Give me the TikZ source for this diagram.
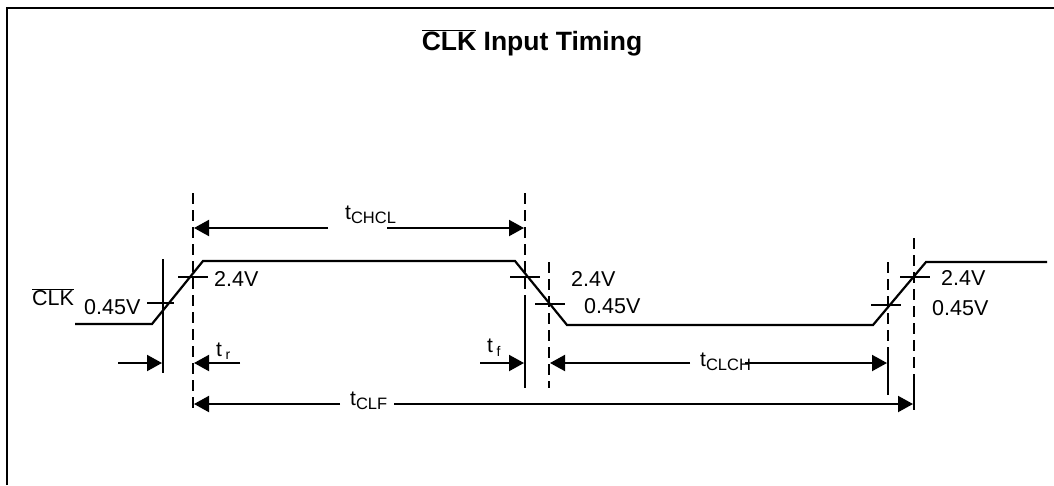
\documentclass[tikz,border=0pt]{standalone}
\usepackage{fontspec}
\setmainfont{Liberation Sans}
\usetikzlibrary{arrows.meta}
\begin{document}
\begin{tikzpicture}[x=1pt,y=-1pt,
  frame/.style={line width=2.2pt},
  wave/.style={line width=2.2pt, line join=miter},
  guide/.style={line width=2pt},
  dguide/.style={line width=2pt, dash pattern=on 11pt off 6pt},
  tickmark/.style={line width=2pt},
  dimr/.style={line width=2pt, -{Triangle[length=15pt,width=16pt]}},
  lbl/.style={font=\fontsize{21.5}{24}\selectfont, inner sep=0pt, anchor=west},
  sub/.style={font=\fontsize{21}{24}\selectfont, inner sep=0pt},
]
\newcommand{\subtxt}[1]{\raisebox{-4pt}{\fontsize{16.5}{18}\selectfont #1}}
\useasboundingbox (0,0) rectangle (1054,485);

% frame
\coordinate (fBL) at (7,485);
\coordinate (fTL) at (7,8);
\coordinate (fTR) at (1054,8);
\draw[frame] (fBL) -- (fTL) -- (fTR);

% title
\node[inner sep=0pt, font=\fontsize{26.5}{30}\selectfont\bfseries] (title) at (532,43)
  {$\overline{\hbox{\fontsize{26.5}{30}\selectfont\bfseries CLK}}$ Input Timing};

% waveform
\coordinate (w0) at (75,324);
\coordinate (w1) at (152,324);
\coordinate (w2) at (203,261);
\coordinate (w3) at (515,261);
\coordinate (w4) at (567,325);
\coordinate (w5) at (873,325);
\coordinate (w6) at (926,262);
\coordinate (w7) at (1047,262);
\draw[wave] (w0) -- (w1) -- (w2) -- (w3) -- (w4) -- (w5) -- (w6) -- (w7);

% vertical guide lines
\coordinate (aT) at (163,259); \coordinate (aB) at (163,373);
\draw[guide] (aT) -- (aB);
\coordinate (bT) at (193,193); \coordinate (bB) at (193,410);
\draw[dguide] (bT) -- (bB);
\coordinate (cT) at (525,193); \coordinate (cM) at (525,300); \coordinate (cB) at (525,388);
\draw[dguide] (cT) -- (cM); \draw[guide] (cM) -- (cB);
\coordinate (dT) at (549,262); \coordinate (dB) at (549,388);
\draw[dguide] (dT) -- (dB);
\coordinate (eT) at (888,262); \coordinate (eM) at (888,350); \coordinate (eB) at (888,395);
\draw[dguide] (eT) -- (eM); \draw[guide] (eM) -- (eB);
\coordinate (gT) at (914,238); \coordinate (gM) at (914,383); \coordinate (gB) at (914,410);
\draw[dguide] (gT) -- (gM); \draw[guide] (gM) -- (gB);

% tick marks at thresholds
\coordinate (t1a) at (147,303); \coordinate (t1b) at (174,303);
\draw[tickmark] (t1a) -- (t1b);
\coordinate (t2a) at (178,277); \coordinate (t2b) at (208,277);
\draw[tickmark] (t2a) -- (t2b);
\coordinate (t3a) at (510,277); \coordinate (t3b) at (540,277);
\draw[tickmark] (t3a) -- (t3b);
\coordinate (t4a) at (535,304); \coordinate (t4b) at (565,304);
\draw[tickmark] (t4a) -- (t4b);
\coordinate (t5a) at (871,305); \coordinate (t5b) at (901,305);
\draw[tickmark] (t5a) -- (t5b);
\coordinate (t6a) at (900,277); \coordinate (t6b) at (930,277);
\draw[tickmark] (t6a) -- (t6b);

% level labels
\node[lbl] (clk) at (32,297) {$\overline{\hbox{\fontsize{21.5}{24}\selectfont CLK}}$};
\node[lbl] (v045a) at (84,307) {0.45V};
\node[lbl] (v24a) at (214,279) {2.4V};
\node[lbl] (v24b) at (571,279) {2.4V};
\node[lbl] (v045b) at (584,306) {0.45V};
\node[lbl] (v24c) at (941,278) {2.4V};
\node[lbl] (v045c) at (932,308) {0.45V};

% tCHCL
\node[sub, anchor=west] (tchcl) at (345,215) {t\subtxt{CHCL}};
\coordinate (chL) at (328,228); \coordinate (chLtip) at (194,228);
\coordinate (chR) at (387,228); \coordinate (chRtip) at (524,228);
\draw[dimr] (chL) -- (chLtip);
\draw[dimr] (chR) -- (chRtip);

% left arrow to line A
\coordinate (a0) at (118,363); \coordinate (a0tip) at (162,363);
\draw[dimr] (a0) -- (a0tip);

% tr
\node[sub, anchor=west] (tr) at (216,351) {t\,\raisebox{-3pt}{\fontsize{14}{15}\selectfont r}};
\coordinate (r0) at (240,363); \coordinate (r0tip) at (194,363);
\draw[dimr] (r0) -- (r0tip);

% tf
\node[sub, anchor=west] (tf) at (487,348) {t\,\raisebox{-4pt}{\fontsize{14}{15}\selectfont f}};
\coordinate (f0) at (480,363); \coordinate (f0tip) at (524,363);
\draw[dimr] (f0) -- (f0tip);

% tCLCH
\node[sub, anchor=west] (tclch) at (700,362) {t\subtxt{CLCH}};
\coordinate (clL) at (690,363); \coordinate (clLtip) at (550,363);
\coordinate (clR) at (745,363); \coordinate (clRtip) at (887,363);
\draw[dimr] (clL) -- (clLtip);
\draw[dimr] (clR) -- (clRtip);

% tCLF
\node[sub, anchor=west] (tclf) at (350,401) {t\subtxt{CLF}};
\coordinate (cfL) at (340,404); \coordinate (cfLtip) at (194,404);
\coordinate (cfR) at (394,404); \coordinate (cfRtip) at (913,404);
\draw[dimr] (cfL) -- (cfLtip);
\draw[dimr] (cfR) -- (cfRtip);
\end{tikzpicture}
\end{document}
